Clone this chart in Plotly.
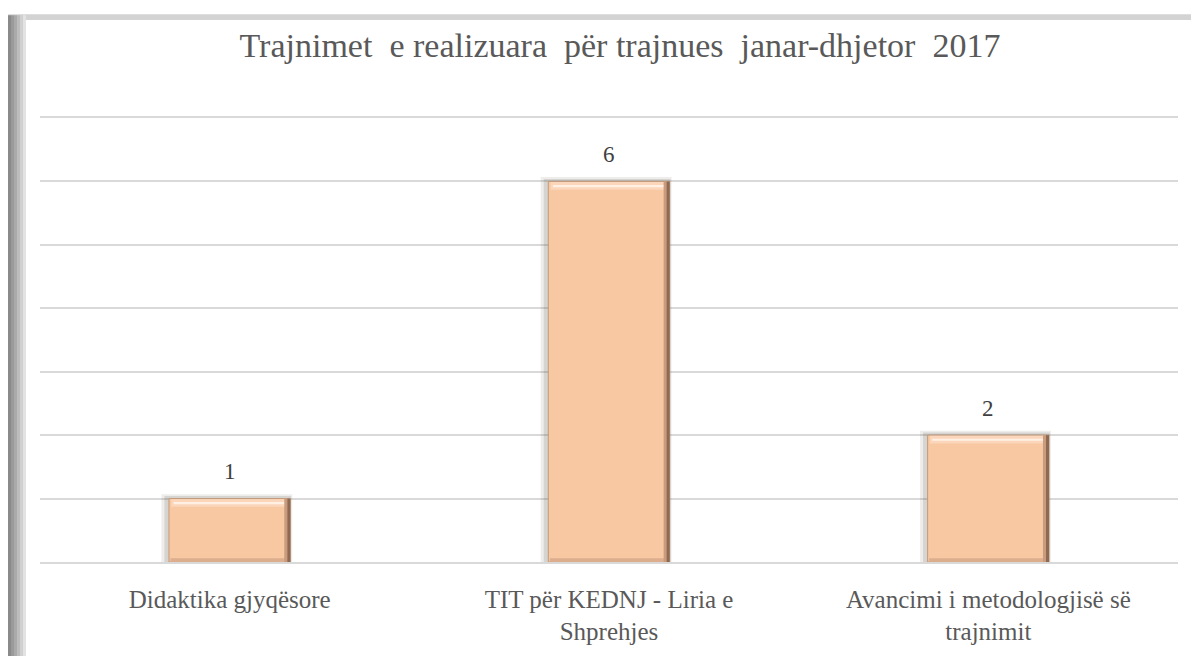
import plotly.graph_objects as go

categories = ["Didaktika gjyqësore", "TIT për KEDNJ - Liria e<br>Shprehjes", "Avancimi i metodologjisë së<br>trajnimit"]
values = [1, 6, 2]
title_text = "Trajnimet  e realizuara  për trajnues  janar-dhjetor  2017"

OFF = 8  # page body margin
SW, SH = 1199, 657
W, H = SW - OFF, SH - OFF
L, R, T, B = 40 - OFF, 21, 118 - OFF, 90
pw, ph = W - L - R, H - T - B
SERIF = "Liberation Serif, Times New Roman, serif"

def px_x(sx):
    return (sx - OFF - L) / pw

def px_y(sy):
    return (H - B - (sy - OFF)) / ph

BW = 0.32          # bar width (category units)
HALF = BW / 2

fig = go.Figure()

def layer(y, base=None, offset=-HALF, width=BW, color="#F8C8A2", line=None):
    fig.add_trace(go.Bar(x=categories, y=y, base=base, offset=offset, width=width,
                         marker=dict(color=color, line=line or dict(width=0)),
                         hoverinfo="skip", showlegend=False))

# soft shadow (up-left)
layer([v + 0.07 for v in values], offset=-HALF - 0.02, width=BW + 0.025, color="rgba(90,80,70,0.10)")
layer([v + 0.04 for v in values], offset=-HALF - 0.012, width=BW + 0.014, color="rgba(90,80,70,0.16)")
# main body
layer(values, color="#F8C8A2", line=dict(color="#C29A7C", width=1))
# bottom darker edge
layer([0.06] * len(values), base=[0] * len(values), offset=-HALF + 0.004, width=BW - 0.008, color="#DDAE8E")
# top bevel
layer([0.12] * len(values), base=[v - 0.13 for v in values], offset=-HALF + 0.006, width=BW - 0.012, color="#FBD6BA")
layer([0.035] * len(values), base=[v - 0.09 for v in values], offset=-HALF + 0.012, width=BW - 0.024, color="#FFF0E3")
# right dark edge
layer(values, offset=HALF - 0.016, width=0.009, color="#C99C7E")
layer(values, offset=HALF - 0.008, width=0.008, color="#8E6A52")

fig.update_layout(
    width=W, height=H, barmode="overlay",
    margin=dict(l=L, r=R, t=T, b=B),
    paper_bgcolor="white", plot_bgcolor="white",
    title=dict(text=title_text, x=(620 - OFF) / W, xanchor="center", y=1 - (45 - OFF) / H, yanchor="middle",
               font=dict(family=SERIF, size=34, color="#595959")),
    xaxis=dict(showgrid=False, zeroline=False, showline=True, mirror=True, linecolor="#D9D9D9", linewidth=1.5,
               tickfont=dict(family=SERIF, size=25, color="#595959"), ticks="", ticklabelstandoff=14),
    yaxis=dict(range=[0, 7], tickvals=[0, 1, 2, 3, 4, 5, 6, 7], showticklabels=False,
               gridcolor="#D9D9D9", gridwidth=1.5, zeroline=False),
)

for c, v in zip(categories, values):
    fig.add_annotation(x=c, y=v, text=str(v), showarrow=False, yshift=27, yanchor="middle",
                       font=dict(family=SERIF, size=23, color="#404040"))

# frame: top border and left shaded border
fig.add_shape(type="rect", xref="paper", yref="paper", x0=px_x(8), x1=px_x(SW + 5), y0=px_y(19), y1=px_y(13),
              fillcolor="#D3D3D3", line=dict(width=0), layer="below")
shades = ["#8a8a8a", "#9a9a9a", "#aaaaaa", "#bdbdbd", "#d0d0d0", "#e3e3e3"]
for i, c in enumerate(shades):
    fig.add_shape(type="rect", xref="paper", yref="paper", x0=px_x(8 + i * 3), x1=px_x(11 + i * 3),
                  y0=px_y(SH + 5), y1=px_y(14), fillcolor=c, line=dict(width=0), layer="below")

fig.write_html("out.html")
